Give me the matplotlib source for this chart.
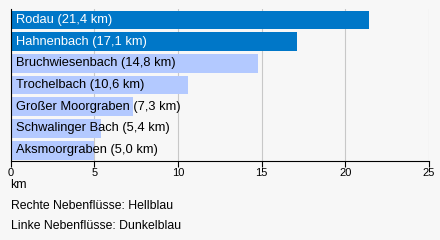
import matplotlib.pyplot as plt

names = ["Rodau", "Hahnenbach", "Bruchwiesenbach", "Trochelbach",
         "Großer Moorgraben", "Schwalinger Bach", "Aksmoorgraben"]
lengths = [21.4, 17.1, 14.8, 10.6, 7.3, 5.4, 5.0]
# L = linker Nebenfluss (dunkelblau), R = rechter (hellblau)
sides = ["L", "L", "R", "R", "R", "R", "R"]
xticks = [0, 5, 10, 15, 20, 25]

DARK = "#0077c8"
LIGHT = "#b3c9ff"
BG = "#f7f7f7"

plt.rcParams['font.family'] = ['Liberation Sans', 'DejaVu Sans']

fig = plt.figure(figsize=(4.4, 2.4), dpi=100, facecolor=BG)
ax = fig.add_axes([0.024, 0.329, 0.951, 0.633], facecolor=BG)

ypos = list(range(len(names)))
colors = [DARK if s == "L" else LIGHT for s in sides]
ax.barh(ypos, lengths, height=0.86, color=colors, zorder=2)

for y, name, val, s in zip(ypos, names, lengths, sides):
    label = f"{name} ({val:.1f} km)".replace(".", ",")
    ax.text(0.3, y, label, va="center", ha="left", fontsize=9.3,
            color="white" if s == "L" else "black", zorder=3)

ax.set_xlim(0, 25)
ax.set_ylim(len(names) - 0.5, -0.5)
ax.set_xticks(xticks)
ax.set_xticklabels([str(t) for t in xticks], fontsize=8)
ax.set_yticks([])
ax.grid(axis="x", color="#c8c8c8", linewidth=0.8, zorder=1)
for sp in ["top", "right"]:
    ax.spines[sp].set_visible(False)
ax.spines["left"].set_color("black")
ax.spines["bottom"].set_color("black")
ax.tick_params(axis="x", length=4, width=0.8, pad=1)

fig.text(0.024, 0.23, "km", fontsize=8.8, va="center", ha="left")
fig.text(0.024, 0.142, "Rechte Nebenflüsse: Hellblau", fontsize=8.8, va="center", ha="left")
fig.text(0.024, 0.058, "Linke Nebenflüsse: Dunkelblau", fontsize=8.8, va="center", ha="left")

fig.savefig("out.png", dpi=100, facecolor=BG)
